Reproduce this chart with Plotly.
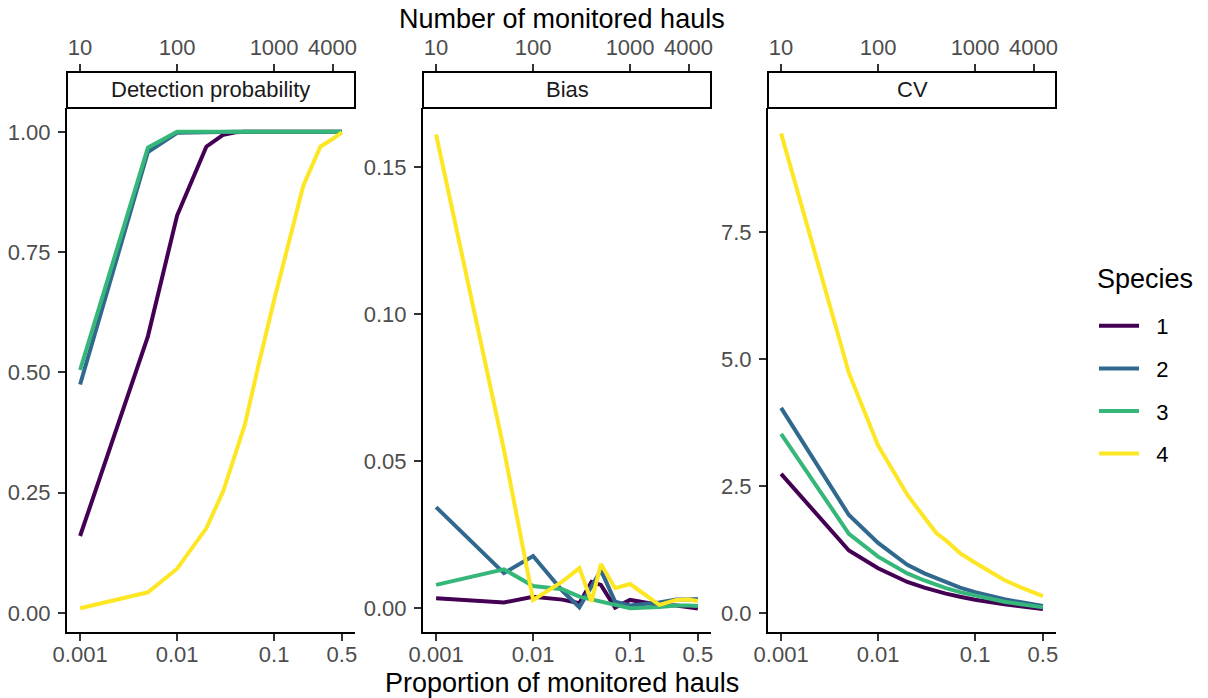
import plotly.graph_objects as go

# ---------------- data ----------------
prop = [0.001, 0.005, 0.01, 0.02, 0.03, 0.04, 0.05, 0.07, 0.1, 0.2, 0.3, 0.4, 0.5]
species = ["1", "2", "3", "4"]
colors = ["#440154", "#31688E", "#35B779", "#FDE725"]

det_1 = [0.16, 0.575, 0.826, 0.969, 0.994, 0.999, 1.0, 1.0, 1.0, 1.0, 1.0, 1.0, 1.0]
det_2 = [0.475, 0.958, 0.998, 1.0, 1.0, 1.0, 1.0, 1.0, 1.0, 1.0, 1.0, 1.0, 1.0]
det_3 = [0.505, 0.967, 1.0, 1.0, 1.0, 1.0, 1.0, 1.0, 1.0, 1.0, 1.0, 1.0, 1.0]
det_4 = [0.01, 0.043, 0.092, 0.176, 0.254, 0.332, 0.392, 0.52, 0.65, 0.888, 0.969, 0.985, 0.999]

bias_1 = [0.0035, 0.002, 0.004, 0.003, 0.0018, 0.009, 0.008, 0.0003, 0.0029, 0.0012, 0.001, 0.0005, 0.0]
bias_2 = [0.0344, 0.012, 0.0178, 0.006, 0.0004, 0.0076, 0.013, 0.0023, 0.001, 0.002, 0.003, 0.003, 0.0032]
bias_3 = [0.008, 0.0133, 0.0076, 0.0065, 0.004, 0.003, 0.0023, 0.001, 0.0001, 0.0005, 0.001, 0.001, 0.0008]
bias_4 = [0.161, 0.054, 0.0029, 0.0091, 0.0137, 0.0023, 0.0151, 0.0069, 0.0083, 0.0012, 0.0029, 0.003, 0.0025]

cv_1 = [2.74, 1.23, 0.88, 0.61, 0.50, 0.43, 0.38, 0.32, 0.26, 0.17, 0.13, 0.11, 0.08]
cv_2 = [4.04, 1.93, 1.38, 0.95, 0.78, 0.68, 0.60, 0.50, 0.41, 0.27, 0.21, 0.17, 0.14]
cv_3 = [3.53, 1.56, 1.11, 0.78, 0.64, 0.55, 0.49, 0.41, 0.34, 0.22, 0.17, 0.14, 0.11]
cv_4 = [9.45, 4.73, 3.30, 2.33, 1.88, 1.57, 1.43, 1.18, 0.99, 0.65, 0.50, 0.40, 0.33]

panel_titles = ["Detection probability", "Bias", "CV"]
panel_data = [[det_1, det_2, det_3, det_4],
              [bias_1, bias_2, bias_3, bias_4],
              [cv_1, cv_2, cv_3, cv_4]]

bottom_tickvals = [0.001, 0.01, 0.1, 0.5]
bottom_ticktext = ["0.001", "0.01", "0.1", "0.5"]
top_tickvals = [10, 100, 1000, 4000]
top_ticktext = ["10", "100", "1000", "4000"]
total_hauls = 10000

y_tickvals = [[0, 0.25, 0.5, 0.75, 1.0], [0, 0.05, 0.10, 0.15], [0, 2.5, 5.0, 7.5]]
y_ticktext = [["0.00", "0.25", "0.50", "0.75", "1.00"],
              ["0.00", "0.05", "0.10", "0.15"],
              ["0.0", "2.5", "5.0", "7.5"]]
y_ranges = [[-0.0395, 1.0495], [-0.008, 0.170], [-0.375, 9.95]]

# ---------------- layout geometry ----------------
W, H = 1208, 698
FONT = "Liberation Sans, Arial, sans-serif"
panel_left = [67, 423, 768]
panel_w = 288
panel_top, panel_bottom = 108, 632
strip_top = 72
x_range = [-3.135, -0.166]
NB = "\u00a0"

fig = go.Figure()

for p in range(3):
    xa = "x" if p == 0 else f"x{p+1}"
    ya = "y" if p == 0 else f"y{p+1}"
    for s in range(4):
        fig.add_trace(go.Scatter(
            x=prop, y=panel_data[p][s], xaxis=xa, yaxis=ya,
            mode="lines", line=dict(color=colors[s], width=4),
            name=NB * 2 + species[s], legendgroup=species[s], showlegend=(p == 0),
        ))
    # transparent companion trace so the secondary (hauls) axis is drawn
    fig.add_trace(go.Scatter(
        x=[v * total_hauls for v in prop], y=panel_data[p][0],
        xaxis=f"x{p+4}", yaxis=ya, mode="lines",
        line=dict(color="rgba(0,0,0,0)", width=0), hoverinfo="skip", showlegend=False,
    ))

axis_common = dict(showline=True, linecolor="black", linewidth=2,
                   ticks="outside", ticklen=7, tickwidth=2, tickcolor="#333333",
                   showgrid=False, zeroline=False,
                   tickfont=dict(family=FONT, size=22, color="#4D4D4D"))

layout = dict(
    width=W, height=H, margin=dict(l=0, r=0, t=0, b=0, autoexpand=False),
    paper_bgcolor="white", plot_bgcolor="white",
    font=dict(family=FONT, color="black"),
    showlegend=True,
    legend=dict(x=1094 / W, y=1 - 305 / H, xanchor="left", yanchor="top",
                font=dict(family=FONT, size=22, color="black"),
                tracegroupgap=11, itemwidth=40, bgcolor="rgba(0,0,0,0)"),
)

shapes = []
annotations = []
for p in range(3):
    dom = [panel_left[p] / W, (panel_left[p] + panel_w) / W]
    xk = "xaxis" if p == 0 else f"xaxis{p+1}"
    yk = "yaxis" if p == 0 else f"yaxis{p+1}"
    xa = "x" if p == 0 else f"x{p+1}"
    ya = "y" if p == 0 else f"y{p+1}"
    layout[xk] = dict(domain=dom, anchor=ya, type="log", range=x_range,
                      tickvals=bottom_tickvals, ticktext=bottom_ticktext,
                      ticklabelstandoff=-5, **axis_common)
    layout[yk] = dict(domain=[1 - panel_bottom / H, 1 - panel_top / H], anchor=xa,
                      range=y_ranges[p], tickvals=y_tickvals[p], ticktext=y_ticktext[p],
                      ticklabelstandoff=3, **axis_common)
    # top secondary axis: number of monitored hauls
    tk = f"xaxis{p+4}"
    layout[tk] = dict(domain=dom, overlaying=xa, side="top", anchor="free",
                      position=1 - strip_top / H, type="log",
                      range=[x_range[0] + 4, x_range[1] + 4],
                      tickvals=top_tickvals, ticktext=top_ticktext,
                      ticklabelstandoff=0, **axis_common)
    # strip
    shapes.append(dict(type="rect", xref=f"{xa} domain", yref="paper",
                       x0=0, x1=1, y0=1 - panel_top / H, y1=1 - strip_top / H,
                       line=dict(color="black", width=2), fillcolor="white", layer="below"))
    annotations.append(dict(text=panel_titles[p], xref=f"{xa} domain", yref="paper",
                            x=0.5, y=1 - (panel_top + strip_top) / 2 / H,
                            showarrow=False, xanchor="center", yanchor="middle",
                            font=dict(family=FONT, size=22, color="#1A1A1A")))

center_x = (panel_left[0] + panel_left[2] + panel_w) / 2 / W
annotations.append(dict(text="Number of monitored hauls", xref="paper", yref="paper",
                        x=center_x, y=1 - 19 / H, showarrow=False,
                        xanchor="center", yanchor="middle",
                        font=dict(family=FONT, size=27, color="black")))
annotations.append(dict(text="Proportion of monitored hauls", xref="paper", yref="paper",
                        x=center_x, y=1 - 683 / H, showarrow=False,
                        xanchor="center", yanchor="middle",
                        font=dict(family=FONT, size=27, color="black")))
annotations.append(dict(text="Species", xref="paper", yref="paper",
                        x=1095 / W, y=1 - 279 / H, showarrow=False,
                        xanchor="left", yanchor="middle",
                        font=dict(family=FONT, size=27, color="black")))
layout["shapes"] = shapes
layout["annotations"] = annotations

fig.update_layout(**layout)
fig.write_html("out.html")
